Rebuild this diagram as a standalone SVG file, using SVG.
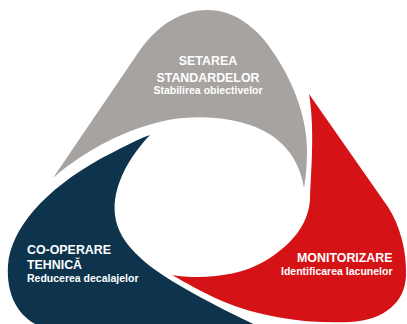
<svg xmlns="http://www.w3.org/2000/svg" width="407" height="324" viewBox="0 0 407 324">
<style>
text{font-family:"Liberation Sans",Arial,sans-serif;font-weight:bold;fill:#ffffff}
.t{font-size:12.4px}
.s{font-size:10.5px}
</style>
<rect width="407" height="324" fill="#ffffff"/>
<g id="setarea">
<path fill="#A6A3A0" d="M53,178 L140,50 C160,22 185,10 207,10 C235,10 258,28 275,55 C295,85 307,120 307,150 C307,170 305,182 304,188 C300,162 286,142 262,130 C238,118 200,114 168,120 C128,128 85,150 53,178 Z"/>
<text class="t" x="208" y="65" text-anchor="middle">SETAREA</text>
<text class="t" x="208" y="81.5" text-anchor="middle">STANDARDELOR</text>
<text class="s" x="208" y="94" text-anchor="middle">Stabilirea obiectivelor</text>
</g>
<g id="monitorizare">
<path fill="#D51317" d="M309,94 L388,207 C400,225 407,252 406,276 C405,302 385,320 350,322 C310,324 262,318 222,301 C202,292 186,283 172,275 C202,280 240,276 265,261 C290,246 308,226 310,200 C311,170 315,130 309,94 Z"/>
<text class="t" x="392.5" y="262" text-anchor="end">MONITORIZARE</text>
<text class="s" x="392.5" y="274.5" text-anchor="end">Identificarea lacunelor</text>
</g>
<g id="cooperare">
<path fill="#0D344C" d="M150,135 C126,160 112,190 115,215 C118,244 148,266 172,281 C200,298 232,314 266,330 L50,330 C20,322 6,298 8,265 C11,228 45,190 100,159 C120,149 135,140 150,135 Z"/>
<text class="t" x="27" y="254">CO-OPERARE</text>
<text class="t" x="27" y="269">TEHNICĂ</text>
<text class="s" x="27" y="281.5">Reducerea decalajelor</text>
</g>
</svg>
